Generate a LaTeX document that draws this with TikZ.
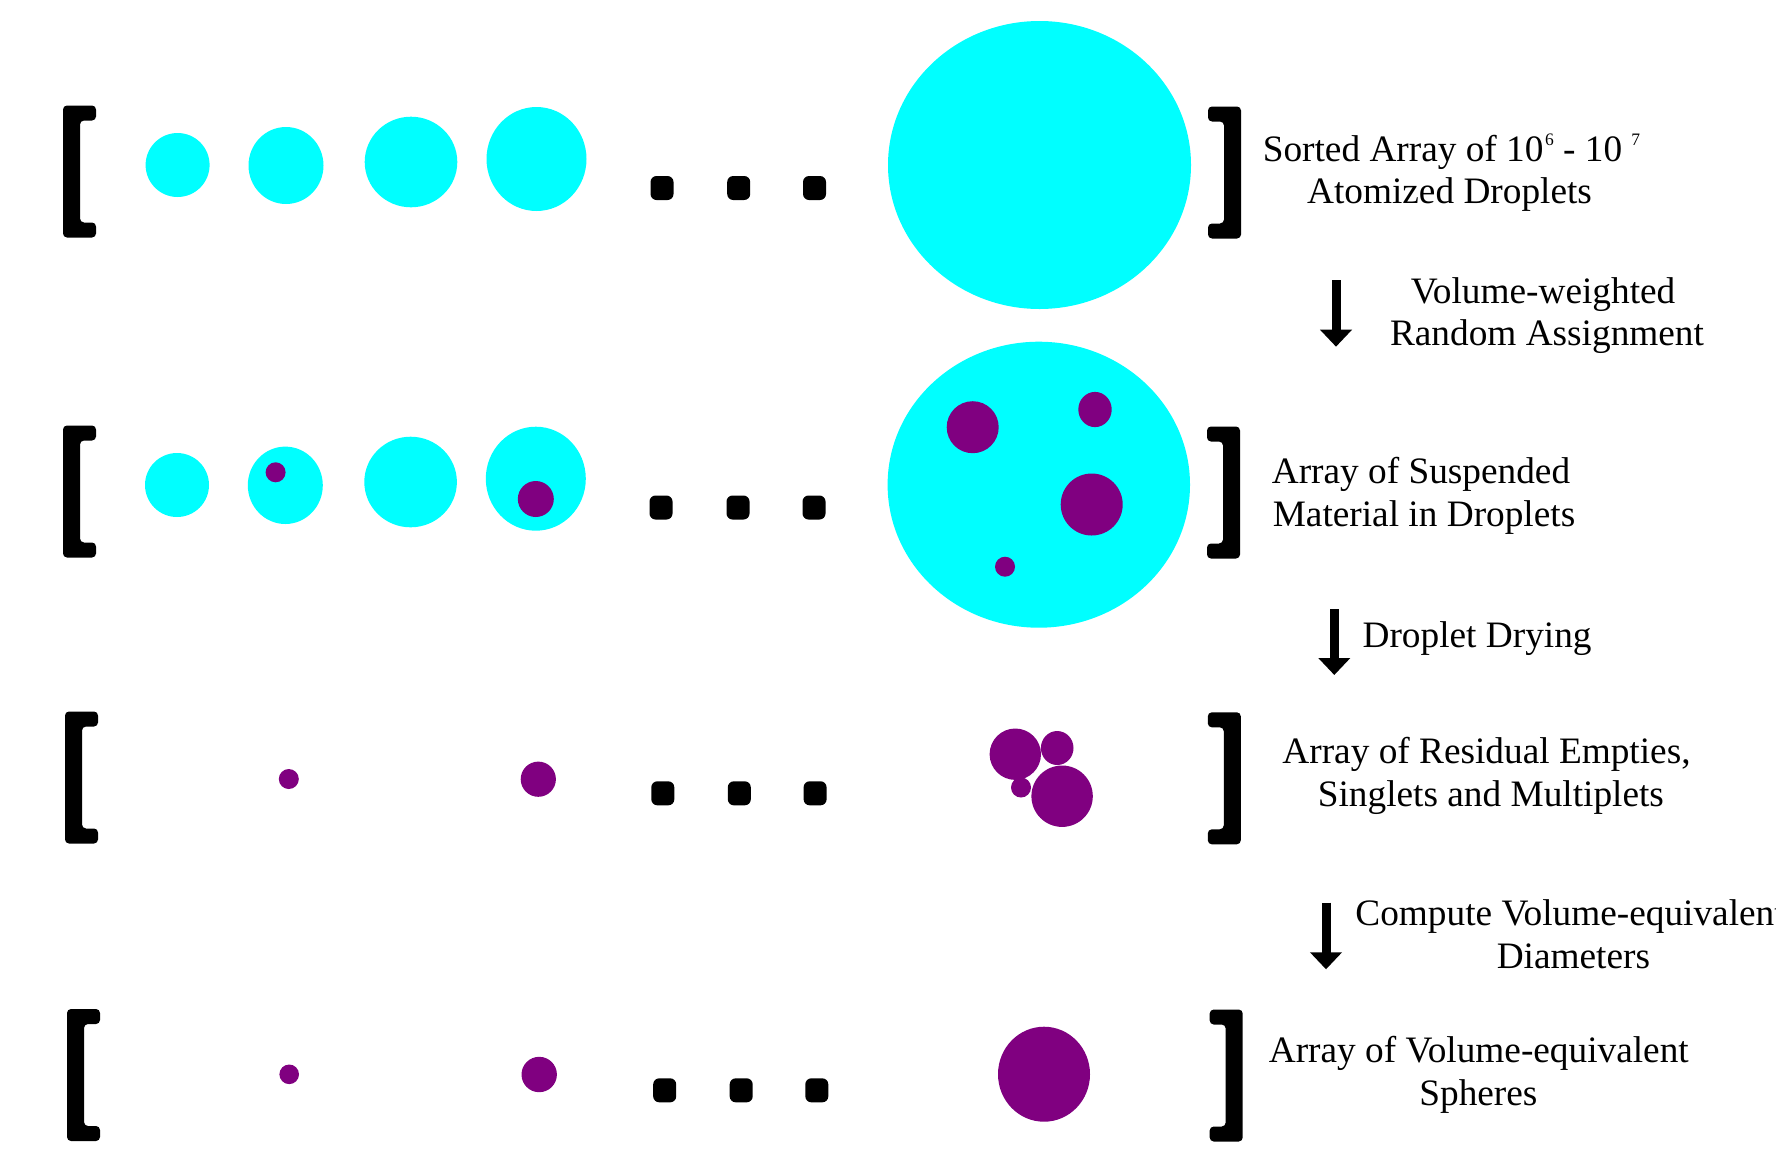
\documentclass[tikz,border=0pt]{standalone}
\usepackage{fontspec}
\setmainfont{Liberation Serif}
\usetikzlibrary{arrows.meta}
\definecolor{dropcyan}{HTML}{00FFFF}
\definecolor{matpurple}{HTML}{800080}
\newcommand{\supnum}[1]{\raisebox{16.7pt}{\fontsize{17.5}{17.5}\selectfont #1}}
\begin{document}
\begin{tikzpicture}[x=1pt,y=-1pt,
  lbl/.style={anchor=base, inner sep=0pt, font=\fontsize{37.3}{42.5}\selectfont},
  lblw/.style={lbl, anchor=base west},
  drop/.style={fill=dropcyan},
  mat/.style={fill=matpurple},
  ellip/.style={rectangle, rounded corners=6pt, fill=black, minimum width=23pt, minimum height=24pt, inner sep=0pt},
  steparrow/.style={line width=9pt, -{Triangle[width=31pt,length=17pt]}},
  lbrack/.pic={\fill[black, rounded corners=4pt] (33,-66) -- (0,-66) -- (0,66) -- (33,66) -- (33,51) -- (17,51) -- (17,-51) -- (33,-51) -- cycle;},
  rbrack/.pic={\fill[black, rounded corners=4pt] (-33,-66) -- (0,-66) -- (0,66) -- (-33,66) -- (-33,51) -- (-17,51) -- (-17,-51) -- (-33,-51) -- cycle;}
]
\fill[white] (0,0) rectangle (1776,1152);
\useasboundingbox (0,0) rectangle (1776,1152);

% ---------- Row 1 ----------
\pic (lb1) at (63,171.5) {lbrack};
\pic (rb1) at (1241,172.5) {rbrack};
\fill[drop] (177.6,165) circle [radius=32pt];
\fill[drop] (286,165.5) ellipse [x radius=37.5pt, y radius=38.5pt];
\fill[drop] (411,162) ellipse [x radius=46.3pt, y radius=45.3pt];
\fill[drop] (536.5,159) ellipse [x radius=50pt, y radius=52pt];
\fill[drop] (1039.5,165) ellipse [x radius=151.5pt, y radius=144pt];
\node[ellip] (d11) at (662,188) {};
\node[ellip] (d12) at (738.7,188) {};
\node[ellip] (d13) at (814.5,188) {};
\node[lbl] (t1a) at (1451.5,161.7) {Sorted Array of 10\kern1.5pt\supnum{6} - 10 \supnum{7}};
\node[lbl] (t1b) at (1449.5,203.3) {Atomized Droplets};

% ---------- Arrow 1 ----------
\coordinate (a1s) at (1336,280);
\coordinate (a1e) at (1336,346.7);
\draw[steparrow] (a1s) -- (a1e);
\node[lbl] (s1a) at (1543,303.3) {Volume-weighted};
\node[lbl] (s1b) at (1547,345) {Random Assignment};

% ---------- Row 2 ----------
\pic (lb2) at (63,491.5) {lbrack};
\pic (rb2) at (1240,492.5) {rbrack};
\fill[drop] (177,485) circle [radius=32pt];
\fill[drop] (285.3,485.3) ellipse [x radius=37.5pt, y radius=38.7pt];
\fill[mat] (275.6,472.3) circle [radius=10pt];
\fill[drop] (410.6,482) ellipse [x radius=46.3pt, y radius=45.3pt];
\fill[drop] (535.8,478.7) ellipse [x radius=50pt, y radius=52pt];
\fill[mat] (535.8,499) circle [radius=18pt];
\fill[drop] (1038.8,484.7) ellipse [x radius=151.2pt, y radius=143pt];
\fill[mat] (972.7,427.2) circle [radius=26pt];
\fill[mat] (1095,409.5) ellipse [x radius=16.7pt, y radius=17.6pt];
\fill[mat] (1091.7,504.5) circle [radius=31pt];
\fill[mat] (1005,566.7) circle [radius=10pt];
\node[ellip] (d21) at (661,507.5) {};
\node[ellip] (d22) at (738,507.5) {};
\node[ellip] (d23) at (814,507.5) {};
\node[lbl] (t2a) at (1421,483.3) {Array of Suspended};
\node[lbl] (t2b) at (1424,526) {Material in Droplets};

% ---------- Arrow 2 ----------
\coordinate (a2s) at (1334.3,609.3);
\coordinate (a2e) at (1334.3,675);
\draw[steparrow] (a2s) -- (a2e);
\node[lblw] (s2a) at (1362.4,647.7) {Droplet Drying};

% ---------- Row 3 ----------
\pic (lb3) at (65,777.5) {lbrack};
\pic (rb3) at (1240.8,778.3) {rbrack};
\fill[mat] (288.8,779) circle [radius=10pt];
\fill[mat] (538.3,779.2) circle [radius=17.6pt];
\fill[mat] (1015.3,754.2) circle [radius=25.7pt];
\fill[mat] (1057.2,748) ellipse [x radius=16.3pt, y radius=17pt];
\fill[mat] (1021,787.5) circle [radius=10pt];
\fill[mat] (1062.1,796.2) circle [radius=30.7pt];
\node[ellip] (d31) at (662.8,793.3) {};
\node[ellip] (d32) at (739.3,793.3) {};
\node[ellip] (d33) at (815.1,793.3) {};
\node[lbl] (t3a) at (1486.5,763.3) {Array of Residual Empties,};
\node[lbl] (t3b) at (1490.9,806.7) {Singlets and Multiplets};

% ---------- Arrow 3 ----------
\coordinate (a3s) at (1326,902.7);
\coordinate (a3e) at (1326,969.3);
\draw[steparrow] (a3s) -- (a3e);
\node[lbl] (s3a) at (1570,925) {Compute Volume-equivalent};
\node[lbl] (s3b) at (1573.4,968.3) {Diameters};

% ---------- Row 4 ----------
\pic (lb4) at (67,1075) {lbrack};
\pic (rb4) at (1242.7,1075.5) {rbrack};
\fill[mat] (289.2,1074.3) circle [radius=9.8pt];
\fill[mat] (539.2,1074.5) circle [radius=17.7pt];
\fill[mat] (1044,1074.2) ellipse [x radius=46pt, y radius=47.5pt];
\node[ellip] (d41) at (664.7,1090.3) {};
\node[ellip] (d42) at (741.2,1090.3) {};
\node[ellip] (d43) at (816.8,1090.3) {};
\node[lbl] (t4a) at (1478.8,1062.7) {Array of Volume-equivalent};
\node[lbl] (t4b) at (1478.4,1105) {Spheres};
\end{tikzpicture}
\end{document}
